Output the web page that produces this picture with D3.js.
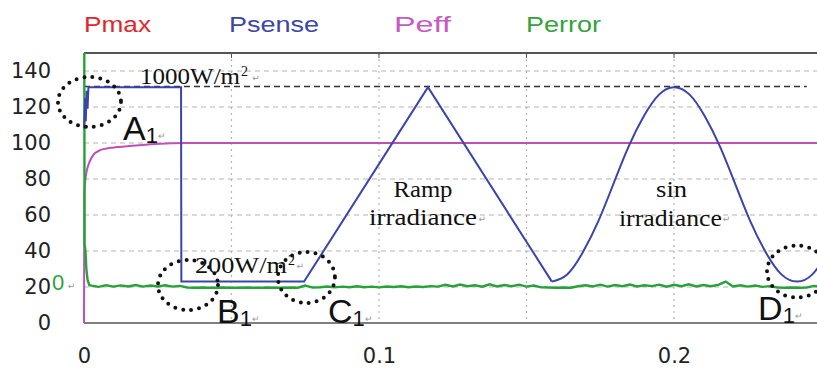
<!DOCTYPE html>
<html>
<head>
<meta charset="utf-8">
<script src="https://cdn.jsdelivr.net/npm/d3@7"></script>
<style>
  body { margin: 0; background: #fff; }
  svg { display: block; }
</style>
</head>
<body>
<div id="chart"></div>
<script>
var width = 817, height = 372;
var margin = {top: 53, left: 84, bottom: 49};

// legend
var seriesNames = ["Pmax", "Psense", "Peff", "Perror"];
var seriesColors = ["#e3262b", "#3b47a6", "#c65bbf", "#35a23e"];
var legendX = [84, 229, 394, 526];
var legendW = [67, 90, 57, 75];

// axes
var xTicks = [0, 0.1, 0.2];
var yTicks = [0, 20, 40, 60, 80, 100, 120, 140];
var xGrid = [0.05, 0.1, 0.15, 0.2];
var yGrid = [20, 40, 60, 80, 100, 120, 140];

// Psense: steps + ramp, then sin irradiance part
var psenseRamp = [[0, 108], [0.0004, 125], [0.0006, 112], [0.0009, 129], [0.0012, 119], [0.0015, 131],
  [0.0329, 131], [0.033, 23], [0.0746, 23], [0.1166, 131], [0.1586, 23]];
var psenseSin = [[0.1586, 23], [0.1638, 27], [0.169, 39], [0.1742, 56], [0.1794, 77], [0.1846, 98],
  [0.1898, 115], [0.195, 127], [0.2, 131], [0.2052, 127], [0.2104, 115], [0.2156, 98], [0.2208, 77],
  [0.226, 56], [0.2312, 39], [0.2364, 27], [0.2417, 23], [0.2469, 27], [0.2521, 39]];

// Peff
var peff = [[0, 0], [0.0001, 72], [0.0005, 80], [0.001, 85], [0.002, 90], [0.003, 93], [0.0054, 96],
  [0.009, 97.3], [0.0146, 98.2], [0.024, 99.5], [0.035, 100], [0.25, 100]];

// Perror: start transient, then samples every 0.0025
var perrorStart = [[0, 150], [0.0001, 150], [0.0002, 44], [0.0005, 40], [0.0008, 30], [0.0012, 24], [0.0018, 21]];
var perrorStep = 0.0025;
var perrorNoise = [
  20.8, 20.1, 21.0, 20.2, 20.9, 20.3, 21.1, 20.2, 20.8, 20.3,
  21.0, 20.2, 20.6, 19.7, 19.6, 19.7, 19.6, 19.6, 19.7, 19.6,
  19.6, 19.7, 19.6, 19.6, 19.7, 19.6, 19.6, 19.7, 19.6, 20.8,
  19.7, 19.9, 20.3, 19.8, 20.2, 19.9, 20.4, 19.9, 20.2, 19.8,
  20.3, 20.0, 20.4, 19.9, 20.3, 20.0, 20.5, 20.2, 21.2, 20.3,
  21.4, 20.4, 21.0, 20.2, 21.5, 20.3, 21.1, 20.4, 21.3, 20.2,
  20.8, 19.8, 19.7, 19.6, 19.7, 19.6, 20.4, 21.0, 20.3, 21.3,
  20.2, 21.1, 20.4, 21.4, 20.3, 21.0, 20.5, 21.3, 20.2, 21.2,
  20.4, 21.5, 20.3, 21.1, 20.4, 21.2, 23.0, 20.3, 21.0, 20.2,
  20.8, 20.1, 20.5, 19.7, 19.6, 19.7, 19.6, 19.7, 20.6, 20.2];

// level line for 1000 W/m2
var refLevel = 131.4, refEnd = 0.245;

// dotted circles [t, value, rx, ry]
var circles = [[0.00186, 122.8, 31.5, 25], [0.03525, 21.1, 30, 25], [0.0754, 25.3, 28.5, 25.5], [0.2417, 28.6, 30, 26]];
// point labels [letter, t, value]
var pointLabels = [["A", 0.0132, 101.7], ["B", 0.0451, 0], ["C", 0.0827, 0], ["D", 0.2285, 1.7]];

var svg = d3.select("#chart").append("svg")
    .attr("width", width)
    .attr("height", height);

var x = d3.scaleLinear().domain([0, 0.25]).range([margin.left, margin.left + 0.25 * 2950]);
var y = d3.scaleLinear().domain([0, 150]).range([height - margin.bottom, margin.top]);

var sans = "'Liberation Sans', Arial, sans-serif";
var serif = "'Liberation Serif', 'Times New Roman', serif";

svg.append("defs").append("clipPath").attr("id", "plotclip")
  .append("rect")
    .attr("x", x(0) - 2).attr("y", y(150) - 1)
    .attr("width", width - x(0) + 2).attr("height", y(0) - y(150) + 2);

// legend
seriesNames.forEach(function(name, i) {
    svg.append("text")
        .attr("x", legendX[i]).attr("y", 32)
        .attr("font-family", sans).attr("font-size", 22)
        .attr("fill", seriesColors[i])
        .attr("textLength", legendW[i]).attr("lengthAdjust", "spacingAndGlyphs")
        .text(name);
});

// grid
svg.append("g").selectAll("line").data(yGrid).join("line")
    .attr("x1", x(0)).attr("x2", width)
    .attr("y1", d => y(d)).attr("y2", d => y(d))
    .attr("stroke", "#b4b4b4").attr("stroke-width", 1).attr("stroke-dasharray", "5,4");
svg.append("g").selectAll("line").data(xGrid).join("line")
    .attr("x1", d => x(d)).attr("x2", d => x(d))
    .attr("y1", y(150)).attr("y2", y(0))
    .attr("stroke", "#b4b4b4").attr("stroke-width", 1.2).attr("stroke-dasharray", "2,4");

// top frame with ticks
svg.append("line")
    .attr("x1", x(0)).attr("x2", width).attr("y1", y(150)).attr("y2", y(150))
    .attr("stroke", "#555").attr("stroke-width", 2.2);
svg.append("g").selectAll("line").data(xGrid).join("line")
    .attr("x1", d => x(d)).attr("x2", d => x(d))
    .attr("y1", y(150)).attr("y2", y(150) + 5)
    .attr("stroke", "#555").attr("stroke-width", 1);

// axes
var xAxis = svg.append("g")
    .attr("transform", "translate(0," + y(0) + ")")
    .call(d3.axisBottom(x).tickValues(xTicks).tickSize(0).tickPadding(25)
        .tickFormat(d => d === 0 ? "0" : d3.format(".1f")(d)));
xAxis.select(".domain").attr("d", "M" + x(0) + ",0H" + width).attr("stroke", "#555").attr("stroke-width", 1.6);
xAxis.selectAll("text").attr("font-family", "'DejaVu Sans', sans-serif").attr("font-size", 21).attr("fill", "#222");

var yAxis = svg.append("g")
    .attr("transform", "translate(" + x(0) + ",0)")
    .call(d3.axisLeft(y).tickValues(yTicks).tickSize(0).tickPadding(33));
yAxis.select(".domain").remove();
yAxis.selectAll("text").attr("font-family", "'DejaVu Sans', sans-serif").attr("font-size", 21).attr("fill", "#222");

// series
var plot = svg.append("g").attr("clip-path", "url(#plotclip)");
var line = d3.line().x(d => x(d[0])).y(d => y(d[1]));

plot.append("line")
    .attr("x1", x(0)).attr("x2", x(refEnd)).attr("y1", y(refLevel)).attr("y2", y(refLevel))
    .attr("stroke", "#333").attr("stroke-width", 1.6).attr("stroke-dasharray", "6,4");

plot.append("path").datum(peff)
    .attr("d", line.curve(d3.curveMonotoneX))
    .attr("fill", "none").attr("stroke", "#c050b8").attr("stroke-width", 2);

var perror = perrorStart.concat(perrorNoise.map((v, i) => [(i + 1) * perrorStep, v]));
plot.append("path").datum(perror)
    .attr("d", d3.line().x(d => x(d[0])).y(d => y(d[1])))
    .attr("fill", "none").attr("stroke", "#27a23a").attr("stroke-width", 2.4);

plot.append("path").datum(psenseRamp)
    .attr("d", d3.line().x(d => x(d[0])).y(d => y(d[1])))
    .attr("fill", "none").attr("stroke", "#3b44a8").attr("stroke-width", 2);
plot.append("path").datum(psenseSin)
    .attr("d", d3.line().x(d => x(d[0])).y(d => y(d[1])).curve(d3.curveNatural))
    .attr("fill", "none").attr("stroke", "#3b44a8").attr("stroke-width", 2);

// dotted circles
svg.append("g").selectAll("ellipse").data(circles).join("ellipse")
    .attr("cx", d => x(d[0])).attr("cy", d => y(d[1]))
    .attr("rx", d => d[2]).attr("ry", d => d[3])
    .attr("fill", "none").attr("stroke", "#111").attr("stroke-width", 4)
    .attr("stroke-linecap", "round").attr("stroke-dasharray", "0,8");

// point labels A1..D1
pointLabels.forEach(function(p) {
    var t = svg.append("text")
        .attr("x", x(p[1])).attr("y", y(p[2]))
        .attr("font-family", sans).attr("font-size", 34).attr("fill", "#111");
    t.append("tspan").text(p[0]);
    t.append("tspan").attr("font-size", 22).attr("dy", 3).text("1");
    t.append("tspan").attr("font-size", 9).attr("fill", "#999").attr("dy", -4).text("\u21b5");
});

// irradiance annotations
function note(str, t, v, len, anchor) {
    return svg.append("text")
        .attr("x", x(t)).attr("y", y(v))
        .attr("font-family", serif).attr("font-size", 23).attr("fill", "#111")
        .attr("text-anchor", anchor || "start")
        .attr("textLength", len).attr("lengthAdjust", "spacingAndGlyphs")
        .text(str);
}
function mark(t, v) {
    svg.append("text").attr("x", x(t)).attr("y", y(v))
        .attr("font-family", "'DejaVu Sans', sans-serif").attr("font-size", 9).attr("fill", "#999")
        .text("\u21b5");
}
note("1000W/m", 0.019, 132.8, 100);
svg.append("text").attr("x", x(0.019) + 101).attr("y", y(132.8) - 8)
    .attr("font-family", serif).attr("font-size", 14).attr("fill", "#111").text("2");
mark(0.057, 134.5);
note("200W/m", 0.0376, 27.8, 92);
svg.append("text").attr("x", x(0.0376) + 93).attr("y", y(27.8) - 8)
    .attr("font-family", serif).attr("font-size", 14).attr("fill", "#111").text("2");
mark(0.072, 30);
note("Ramp", 0.1149, 70, 59, "middle");
note("irradiance", 0.1149, 54.4, 108, "middle");
mark(0.1337, 56);
note("sin", 0.1992, 70, 31, "middle");
note("irradiance", 0.1988, 53.9, 103, "middle");
mark(0.2165, 56);

// green zero of Perror
svg.append("text").attr("x", 52).attr("y", y(18.3))
    .attr("font-family", sans).attr("font-size", 22).attr("fill", "#2ea23a").text("0");
mark(-0.0055, 19);
</script>
</body>
</html>
